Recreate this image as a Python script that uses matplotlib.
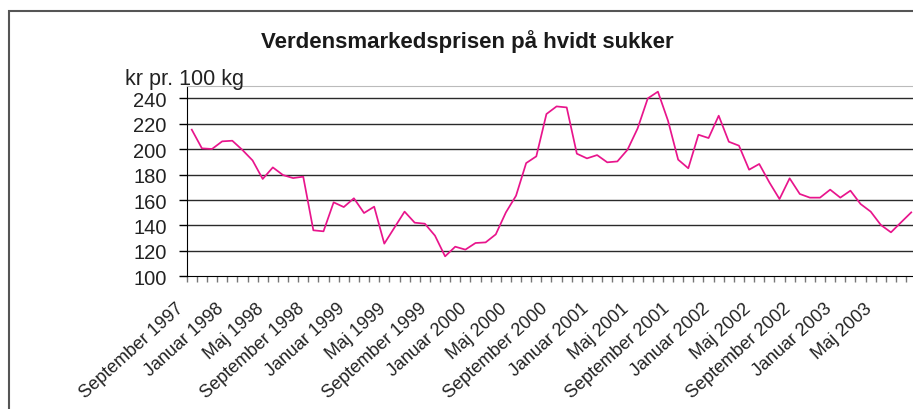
import numpy as np
import matplotlib.pyplot as plt
from matplotlib.patches import Rectangle
from matplotlib.transforms import ScaledTranslation

plt.rcParams['font.family'] = ['Liberation Sans', 'DejaVu Sans']

# sugar price, kr per 100 kg, monthly from September 1997
months = ['September', 'Oktober', 'November', 'December', 'Januar', 'Februar', 'Marts',
          'April', 'Maj', 'Juni', 'Juli', 'August']
start_year = 1997
prices = [215.4, 200.7, 200.2, 206.2, 206.7, 199.4, 191.2, 176.6, 185.7, 179.7,
          177.3, 178.4, 136.2, 135.4, 158.2, 154.5, 161.4, 149.8, 154.8, 125.7,
          138.3, 150.9, 142.2, 141.4, 132.0, 115.7, 123.3, 121.0, 126.2, 126.7,
          133.0, 150.3, 163.4, 189.1, 194.4, 227.7, 233.7, 232.9, 196.5, 192.8,
          195.4, 189.7, 190.4, 199.6, 216.4, 240.0, 245.3, 222.4, 191.8, 185.0,
          211.4, 208.8, 226.4, 205.9, 202.8, 183.9, 188.4, 173.9, 160.8, 177.1,
          164.8, 161.9, 161.9, 168.2, 161.9, 167.4, 156.9, 150.9, 140.4, 134.6,
          142.5, 150.3]

labels = []
for i in range(len(prices)):
    labels.append(f"{months[i % 12]} {start_year + (i + 8) // 12}")

title = 'Verdensmarkedsprisen på hvidt sukker'
unit = 'kr pr. 100 kg'
yticks = [100, 120, 140, 160, 180, 200, 220, 240]

W, H = 913, 410
fig = plt.figure(figsize=(W / 100, H / 100), dpi=100)

# outer frame (cut by the figure edge on right and bottom)
fig.patches.append(Rectangle((9 / W, -0.2), 1.2, (H - 11.7) / H + 0.2,
                             transform=fig.transFigure, fill=False,
                             edgecolor='#555555', linewidth=1.5))

ax = fig.add_axes([186.7 / W, 132.7 / H, (916.3 - 186.7) / W, (323.3 - 132.7) / H])

x = np.arange(len(prices))
ax.plot(x, prices, color='#e8158c', linewidth=1.25, zorder=3)

ax.set_xlim(-0.5, len(prices) - 0.5)
ax.set_ylim(100, 250)

ax.set_yticks(yticks)
ax.set_yticklabels([str(v) for v in yticks], fontsize=14.5, color='#222222')
ax.tick_params(axis='y', direction='out', length=6, width=1, color='black', pad=8.5)
for v in yticks[1:]:
    ax.axhline(v, color='#2a2a2a', linewidth=1.0, zorder=1)

# labels every fourth month, minor ticks at category borders
major = x[::4]
ax.set_xticks(major)
ax.set_xticklabels([labels[i] for i in major], rotation=42, ha='right', va='center',
                   rotation_mode='anchor', fontsize=13, color='#222222')
ax.tick_params(axis='x', which='major', length=0, pad=21)
ax.set_xticks(np.arange(len(prices) + 1) - 0.5, minor=True)
ax.tick_params(axis='x', which='minor', direction='out', length=4.3, width=1, color='#777777')
shift = ScaledTranslation(-11 / 100, 0, fig.dpi_scale_trans)
for lab in ax.get_xticklabels():
    lab.set_transform(lab.get_transform() + shift)

ax.spines['left'].set_color('black')
ax.spines['bottom'].set_color('black')
ax.spines['top'].set_color('#bbbbbb')
ax.spines['right'].set_visible(False)

fig.text(467.5 / W, 1 - 48 / H, title, ha='center', va='baseline',
         fontsize=16, fontweight='bold', color='#1a1a1a')
fig.text(125 / W, 1 - 85 / H, unit, ha='left', va='baseline', fontsize=15.5, color='#222222')

fig.savefig('out.png', dpi=100)
